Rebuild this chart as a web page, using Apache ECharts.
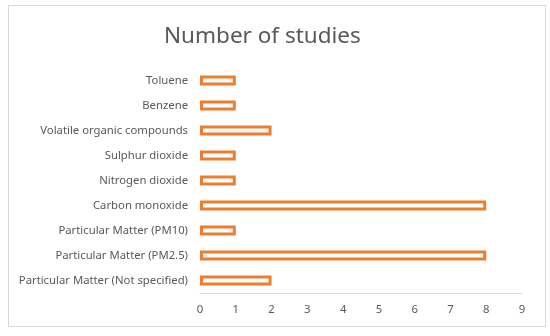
<!DOCTYPE html>
<html><head><meta charset="utf-8">
<script src="https://cdn.jsdelivr.net/npm/echarts@6/dist/echarts.min.js"></script>
<style>html,body{margin:0;padding:0;background:#fff}#c{width:550px;height:336px}</style>
</head><body><div id="c"></div>
<script>
const categories = ["Particular Matter (Not specified)","Particular Matter (PM2.5)","Particular Matter (PM10)","Carbon monoxide","Nitrogen dioxide","Sulphur dioxide","Volatile organic compounds","Benzene","Toluene"];
const studies = [2,8,1,8,1,1,2,1,1];
const xTicks = [0,1,2,3,4,5,6,7,8,9];
const chart = echarts.init(document.getElementById('c'));
chart.setOption({
  animation:false,
  graphic:[{type:'rect',shape:{x:8.5,y:5.5,width:537,height:321},style:{fill:'none',stroke:'#d9d9d9',lineWidth:1},silent:true}],
  title:{text:'Number of studies',left:159,top:20,textStyle:{fontFamily:'Noto Sans',fontSize:22.5,fontWeight:'normal',color:'#595959'}},
  grid:{left:200,right:28,top:68,bottom:43,containLabel:false},
  xAxis:{type:'value',min:xTicks[0],max:xTicks[xTicks.length-1],interval:1,
    axisLine:{show:true,lineStyle:{color:'#d9d9d9'}},axisTick:{show:false},splitLine:{show:false},
    axisLabel:{color:'#595959',fontFamily:'Noto Sans',fontSize:11.3,margin:11}},
  yAxis:{type:'category',data:categories,axisLine:{show:false},axisTick:{show:false},
    axisLabel:{color:'#595959',fontFamily:'Noto Sans',fontSize:11.3,margin:12}},
  series:[{type:'bar',data:studies,barWidth:10,
    itemStyle:{color:'#ffffff',borderColor:'#ED7D31',borderWidth:3}}]
});
</script></body></html>
